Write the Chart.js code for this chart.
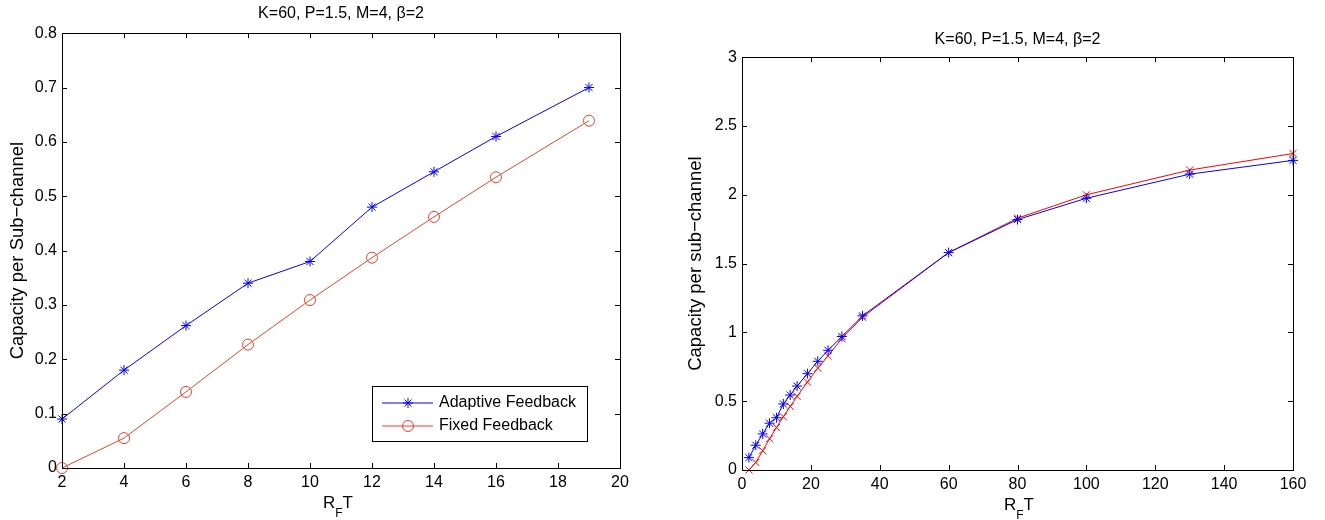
<!DOCTYPE html>
<html>
<head>
<meta charset="utf-8">
<script src="https://cdn.jsdelivr.net/npm/chart.js@4.4.0/dist/chart.umd.min.js"></script>
<style>
  body { margin: 0; background: #fff; width: 1325px; height: 520px; position: relative; overflow: hidden;
         font-family: "Liberation Sans", Arial, sans-serif; }
  .panel { position: absolute; top: 0; }
  .xlab { position: absolute; font-size: 17px; line-height: 20px; transform: translateX(-50%); color: #000; white-space: nowrap; }
  .xlab sub { font-size: 12px; vertical-align: -9px; line-height: 0; }
</style>
</head>
<body>
<div class="panel" style="left:0px"><canvas id="left" width="650" height="520"></canvas></div>
<div class="panel" style="left:665px"><canvas id="right" width="660" height="520"></canvas></div>
<div class="xlab" style="left:338px; top:493px">R<sub>F</sub>T</div>
<div class="xlab" style="left:1019px; top:495px">R<sub>F</sub>T</div>
<script>
const chartTitle = "K=60, P=1.5, M=4, β=2";

// left plot
const rftLeft = [2, 4, 6, 8, 10, 12, 14, 16, 19];
const adaptiveLeft = [0.09, 0.18, 0.262, 0.34, 0.38, 0.48, 0.545, 0.61, 0.70];
const fixedLeft = [0, 0.055, 0.14, 0.227, 0.309, 0.387, 0.462, 0.535, 0.639];

// right plot
const rftRight = [2, 4, 6, 8, 10, 12, 14, 16, 19, 22, 25, 29, 35, 60, 80, 100, 130, 160];
const adaptiveRight = [0.09, 0.18, 0.262, 0.34, 0.38, 0.48, 0.545, 0.61, 0.70, 0.79, 0.87, 0.97, 1.12, 1.58, 1.82, 1.975, 2.15, 2.25];
const fixedRight = [0, 0.055, 0.14, 0.227, 0.309, 0.387, 0.462, 0.535, 0.639, 0.74, 0.83, 0.955, 1.11, 1.58, 1.83, 2.0, 2.18, 2.30];

const FONT = '"Liberation Sans", Arial, sans-serif';

function pts(xs, ys) {
  return xs.map((x, i) => ({ x: x, y: ys[i] }));
}

// box round the plot and inward ticks on all four sides
const frameTicks = {
  id: "frameTicks",
  afterDatasetsDraw(chart) {
    const { ctx, chartArea: a, scales } = chart;
    ctx.save();
    ctx.strokeStyle = "#000";
    ctx.lineWidth = 1;
    ctx.beginPath();
    scales.x.ticks.forEach(t => {
      const px = Math.round(scales.x.getPixelForValue(t.value)) + 0.5;
      ctx.moveTo(px, a.bottom); ctx.lineTo(px, a.bottom - 5);
      ctx.moveTo(px, a.top); ctx.lineTo(px, a.top + 5);
    });
    scales.y.ticks.forEach(t => {
      const py = Math.round(scales.y.getPixelForValue(t.value)) + 0.5;
      ctx.moveTo(a.left, py); ctx.lineTo(a.left + 5, py);
      ctx.moveTo(a.right, py); ctx.lineTo(a.right - 5, py);
    });
    ctx.stroke();
    ctx.strokeRect(Math.round(a.left) + 0.5, Math.round(a.top) + 0.5,
                   Math.round(a.right - a.left), Math.round(a.bottom - a.top));
    ctx.restore();
  }
};

// legend box in the lower right corner of the plot
const boxLegend = {
  id: "boxLegend",
  afterDraw(chart, args, opts) {
    if (!opts.show) return;
    const { ctx, chartArea: a } = chart;
    const w = 215, h = 55;
    const left = Math.round(a.right - 33 - w), top = Math.round(a.bottom - 27 - h);
    ctx.save();
    ctx.fillStyle = "#fff";
    ctx.fillRect(left, top, w, h);
    ctx.strokeStyle = "#000";
    ctx.lineWidth = 1;
    ctx.strokeRect(left + 0.5, top + 0.5, w, h);
    ctx.font = "16px " + FONT;
    ctx.textBaseline = "middle";
    chart.data.datasets.forEach((ds, i) => {
      const y = top + 17 + i * 23;
      ctx.strokeStyle = ds.borderColor;
      ctx.lineWidth = 1;
      ctx.beginPath();
      ctx.moveTo(left + 10, y);
      ctx.lineTo(left + 61, y);
      ctx.stroke();
      ctx.fillStyle = "rgba(0,0,0,0)";
      Chart.helpers.drawPoint(ctx, { pointStyle: ds.pointStyle, rotation: 0, borderWidth: 1, radius: ds.pointRadius }, left + 36, y);
      ctx.fillStyle = "#000";
      ctx.fillText(ds.label, left + 67, y);
    });
    ctx.restore();
  }
};

function makeChart(id, cfg) {
  return new Chart(document.getElementById(id), {
    type: "line",
    data: { datasets: cfg.datasets },
    options: {
      responsive: false,
      animation: false,
      events: [],
      layout: { padding: { right: cfg.padRight, left: 0, bottom: 0, top: 0 } },
      plugins: {
        legend: { display: false },
        tooltip: { enabled: false },
        title: {
          display: true,
          text: chartTitle,
          fullSize: false,
          color: "#000",
          font: { family: FONT, size: 16, weight: "normal" },
          padding: cfg.titlePad
        },
        boxLegend: { show: cfg.legend }
      },
      scales: {
        x: {
          type: "linear",
          min: cfg.xMin, max: cfg.xMax,
          grid: { display: false, drawTicks: false },
          border: { display: false },
          ticks: { stepSize: cfg.xStep, padding: 5, color: "#000", font: { family: FONT, size: 16 } },
          afterFit: s => { s.height = cfg.xHeight; }
        },
        y: {
          min: 0, max: cfg.yMax,
          grid: { display: false, drawTicks: false },
          border: { display: false },
          ticks: {
            stepSize: cfg.yStep, padding: 5, color: "#000", font: { family: FONT, size: 16 },
            callback: v => String(Math.round(v * 10) / 10)
          },
          title: {
            display: true,
            text: cfg.yTitle,
            color: "#000",
            font: { family: FONT, size: 18.5 },
            padding: { top: cfg.yTitlePad, bottom: 0 }
          },
          afterFit: s => { s.width = cfg.yWidth; }
        }
      }
    },
    plugins: [frameTicks, boxLegend]
  });
}

makeChart("left", {
  datasets: [
    {
      label: "Adaptive Feedback",
      data: pts(rftLeft, adaptiveLeft),
      borderColor: "#0000ff", backgroundColor: "#0000ff", borderWidth: 1,
      pointStyle: "star", pointRadius: 5, pointBorderWidth: 1, clip: false
    },
    {
      label: "Fixed Feedback",
      data: pts(rftLeft, fixedLeft),
      borderColor: "#e8432d", backgroundColor: "rgba(0,0,0,0)", borderWidth: 1,
      pointStyle: "circle", pointRadius: 5.5, pointBorderWidth: 1, clip: false
    }
  ],
  xMin: 2, xMax: 20, xStep: 2, yMax: 0.8, yStep: 0.1,
  yTitle: "Capacity per Sub−channel", yTitlePad: 7, yWidth: 62,
  xHeight: 52, padRight: 30, titlePad: { top: 4, bottom: 10 }, legend: true
});

makeChart("right", {
  datasets: [
    {
      label: "Adaptive Feedback",
      data: pts(rftRight, adaptiveRight),
      borderColor: "#0000ff", backgroundColor: "#0000ff", borderWidth: 1,
      pointStyle: "star", pointRadius: 5, pointBorderWidth: 1, clip: false
    },
    {
      label: "Fixed Feedback",
      data: pts(rftRight, fixedRight),
      borderColor: "#ff0000", backgroundColor: "#ff0000", borderWidth: 1,
      pointStyle: "crossRot", pointRadius: 5, pointBorderWidth: 1, clip: false
    }
  ],
  xMin: 0, xMax: 160, xStep: 20, yMax: 3, yStep: 0.5,
  yTitle: "Capacity per sub−channel", yTitlePad: 20, yWidth: 77,
  xHeight: 50, padRight: 32, titlePad: { top: 30, bottom: 8 }, legend: false
});
</script>
</body>
</html>
